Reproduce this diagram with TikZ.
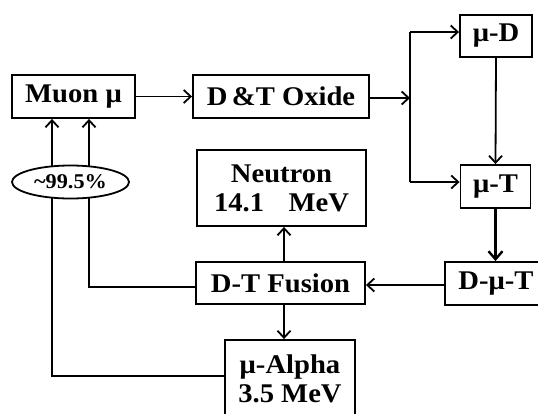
\documentclass[tikz,border=0pt]{standalone}
\usepackage{fontspec}
\setmainfont{Liberation Serif}[FakeStretch=1.06]
\usetikzlibrary{arrows.meta,shapes.geometric}
\begin{document}
\begin{tikzpicture}[x=1pt,y=-1pt,
  box/.style={draw,line width=1.9pt,inner sep=0pt,align=center,font=\fontsize{27}{29}\selectfont\bfseries},
  conn/.style={line width=1.8pt,-{Straight Barb[length=7pt,width=13pt,line width=1.8pt]}},
  plain/.style={line width=1.8pt}]
\useasboundingbox (0,0) rectangle (538,413);
\clip (0,0) rectangle (538,413);
\node[box,minimum width=123pt,minimum height=43pt] (muon) at (73.5,96.5) {Muon μ};
\node[box,minimum width=176pt,minimum height=43pt] (oxide) at (281,96.5) {D\,\&T Oxide};
\node[box,minimum width=72pt,minimum height=42pt] (muD) at (496,36) {μ-D};
\node[box,minimum width=70pt,minimum height=43pt] (muT) at (495.5,186.5) {μ-T};
\node[box,minimum width=102pt,minimum height=43pt] (DmuT) at (496,283.5) {D-μ-T};
\node[box,minimum width=169pt,minimum height=42pt] (fusion) at (280.5,283) {D-T Fusion};
\node[box,minimum width=169pt,minimum height=76pt] (neutron) at (281.5,188) {Neutron\\\makebox[135pt]{14.1\hfill MeV}};
\node[box,minimum width=130pt,minimum height=78pt] (alpha) at (290,379) {μ-Alpha\\3.5 MeV};
% connectors
\draw[conn] (muon.east) -- (oxide.west);
\coordinate (split) at (410,98);
\coordinate (topbr) at (410,32);
\coordinate (botbr) at (410,182);
\draw[conn] (oxide.east |- split) -- (split);
\draw[plain] (topbr) -- (botbr);
\draw[conn] (topbr) -- (topbr -| muD.west);
\draw[conn] (botbr) -- (botbr -| muT.west);
\draw[conn] (muD.south) -- (muT.north);
\draw[line width=2.8pt,-{Straight Barb[length=8pt,width=14pt,line width=2.4pt]}] (muT.south) -- (muT.south |- DmuT.north);
\coordinate (fuse) at (0,285);
\draw[conn] (DmuT.west |- fuse) -- (fusion.east |- fuse);
\draw[conn] (284,262) coordinate (fn) -- (neutron.south -| fn);
\draw[conn] (284,304) coordinate (fs) -- (alpha.north -| fs);
\coordinate (l1) at (89,287);
\coordinate (l2) at (52,376);
\draw[plain,-{Straight Barb[length=7pt,width=13pt,line width=1.8pt]}] (fusion.west |- l1) -- (l1) -- (l1 |- muon.south);
\draw[plain,-{Straight Barb[length=7pt,width=13pt,line width=1.8pt]}] (alpha.west |- l2) -- (l2) -- (l2 |- muon.south);
\node[ellipse,draw,fill=white,line width=1.8pt,minimum width=117pt,minimum height=33pt,inner sep=0pt,font=\fontsize{21}{22}\selectfont\bfseries] (pct) at (70.5,182) {\char`~99.5\%};
\end{tikzpicture}
\end{document}
